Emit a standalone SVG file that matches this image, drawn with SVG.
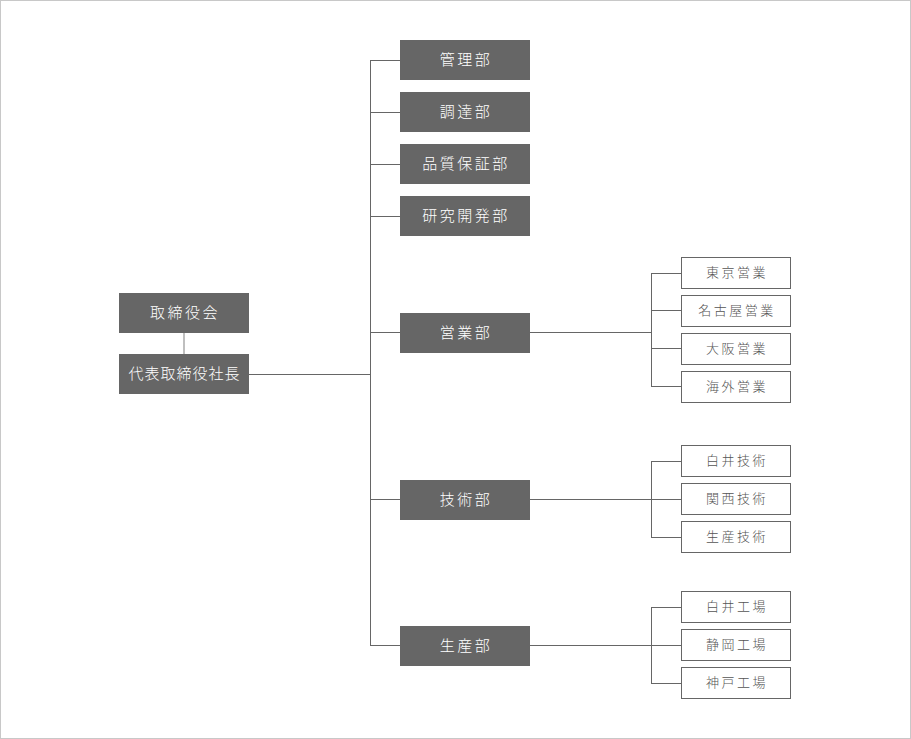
<svg xmlns="http://www.w3.org/2000/svg" width="911" height="739" viewBox="0 0 911 739">
<style>
.frame{fill:#fff;stroke:#c8c8c8;stroke-width:1}
.main rect{fill:#666}
.main text{fill:#fff;font-family:"Noto Sans CJK JP","Noto Sans",sans-serif;font-size:15px;font-weight:300;letter-spacing:2.5px;text-anchor:middle;dominant-baseline:central}
.main text.tight{letter-spacing:1px}
.sub rect{fill:#fff;stroke:#666;stroke-width:1}
.sub text{fill:#555;font-family:"Noto Sans CJK JP","Noto Sans",sans-serif;font-size:13px;font-weight:300;letter-spacing:2.5px;text-anchor:middle;dominant-baseline:central}
.ln{stroke:#666;stroke-width:1;fill:none}
.lt{stroke:#aaa;stroke-width:1.5;fill:none}
</style>
<rect class="frame" x="0.5" y="0.5" width="910" height="738"/>
<g id="connectors">
<line class="lt" x1="184" y1="333" x2="184" y2="354"/>
<line class="ln" x1="249" y1="374.5" x2="370.5" y2="374.5"/>
<line class="ln" x1="370.5" y1="60" x2="370.5" y2="645.5"/>
<line class="ln" x1="370" y1="60.5" x2="400" y2="60.5"/>
<line class="ln" x1="370" y1="112.5" x2="400" y2="112.5"/>
<line class="ln" x1="370" y1="164.5" x2="400" y2="164.5"/>
<line class="ln" x1="370" y1="216.5" x2="400" y2="216.5"/>
<line class="ln" x1="370" y1="332.5" x2="400" y2="332.5"/>
<line class="ln" x1="370" y1="499.5" x2="400" y2="499.5"/>
<line class="ln" x1="370" y1="645.5" x2="400" y2="645.5"/>
<line class="ln" x1="530" y1="332.5" x2="651.5" y2="332.5"/>
<line class="ln" x1="651.5" y1="273" x2="651.5" y2="386.5"/>
<line class="ln" x1="651" y1="273.5" x2="681" y2="273.5"/>
<line class="ln" x1="651" y1="310.5" x2="681" y2="310.5"/>
<line class="ln" x1="651" y1="348.5" x2="681" y2="348.5"/>
<line class="ln" x1="651" y1="386.5" x2="681" y2="386.5"/>
<line class="ln" x1="530" y1="499.5" x2="681" y2="499.5"/>
<line class="ln" x1="651.5" y1="461" x2="651.5" y2="537.5"/>
<line class="ln" x1="651" y1="461.5" x2="681" y2="461.5"/>
<line class="ln" x1="651" y1="537.5" x2="681" y2="537.5"/>
<line class="ln" x1="530" y1="645.5" x2="681" y2="645.5"/>
<line class="ln" x1="651.5" y1="607" x2="651.5" y2="683.5"/>
<line class="ln" x1="651" y1="607.5" x2="681" y2="607.5"/>
<line class="ln" x1="651" y1="683.5" x2="681" y2="683.5"/>
</g>
<g id="board" class="main"><rect x="119" y="293" width="130" height="40"/><text x="185" y="311.5">取締役会</text></g>
<g id="president" class="main"><rect x="119" y="354" width="130" height="40"/><text class="tight" x="184.5" y="372.5">代表取締役社長</text></g>
<g id="kanri" class="main"><rect x="400" y="40" width="130" height="40"/><text x="466" y="58.5">管理部</text></g>
<g id="chotatsu" class="main"><rect x="400" y="92" width="130" height="40"/><text x="466" y="110.5">調達部</text></g>
<g id="hinshitsu" class="main"><rect x="400" y="144" width="130" height="40"/><text x="466" y="162.5">品質保証部</text></g>
<g id="kenkyu" class="main"><rect x="400" y="196" width="130" height="40"/><text x="466" y="214.5">研究開発部</text></g>
<g id="eigyo" class="main"><rect x="400" y="313" width="130" height="40"/><text x="466" y="331.5">営業部</text></g>
<g id="gijutsu" class="main"><rect x="400" y="480" width="130" height="40"/><text x="466" y="498.5">技術部</text></g>
<g id="seisan" class="main"><rect x="400" y="626" width="130" height="40"/><text x="466" y="644.5">生産部</text></g>
<g id="tokyo" class="sub"><rect x="681.5" y="257.5" width="109" height="31"/><text x="737" y="271.5">東京営業</text></g>
<g id="nagoya" class="sub"><rect x="681.5" y="295.5" width="109" height="31"/><text x="737" y="309.5">名古屋営業</text></g>
<g id="osaka" class="sub"><rect x="681.5" y="333.5" width="109" height="31"/><text x="737" y="347.5">大阪営業</text></g>
<g id="kaigai" class="sub"><rect x="681.5" y="371.5" width="109" height="31"/><text x="737" y="385.5">海外営業</text></g>
<g id="shiroi-gijutsu" class="sub"><rect x="681.5" y="445.5" width="109" height="31"/><text x="737" y="459.5">白井技術</text></g>
<g id="kansai-gijutsu" class="sub"><rect x="681.5" y="483.5" width="109" height="31"/><text x="737" y="497.5">関西技術</text></g>
<g id="seisan-gijutsu" class="sub"><rect x="681.5" y="521.5" width="109" height="31"/><text x="737" y="535.5">生産技術</text></g>
<g id="shiroi-kojo" class="sub"><rect x="681.5" y="591.5" width="109" height="31"/><text x="737" y="605.5">白井工場</text></g>
<g id="shizuoka-kojo" class="sub"><rect x="681.5" y="629.5" width="109" height="31"/><text x="737" y="643.5">静岡工場</text></g>
<g id="kobe-kojo" class="sub"><rect x="681.5" y="667.5" width="109" height="31"/><text x="737" y="681.5">神戸工場</text></g>
</svg>
